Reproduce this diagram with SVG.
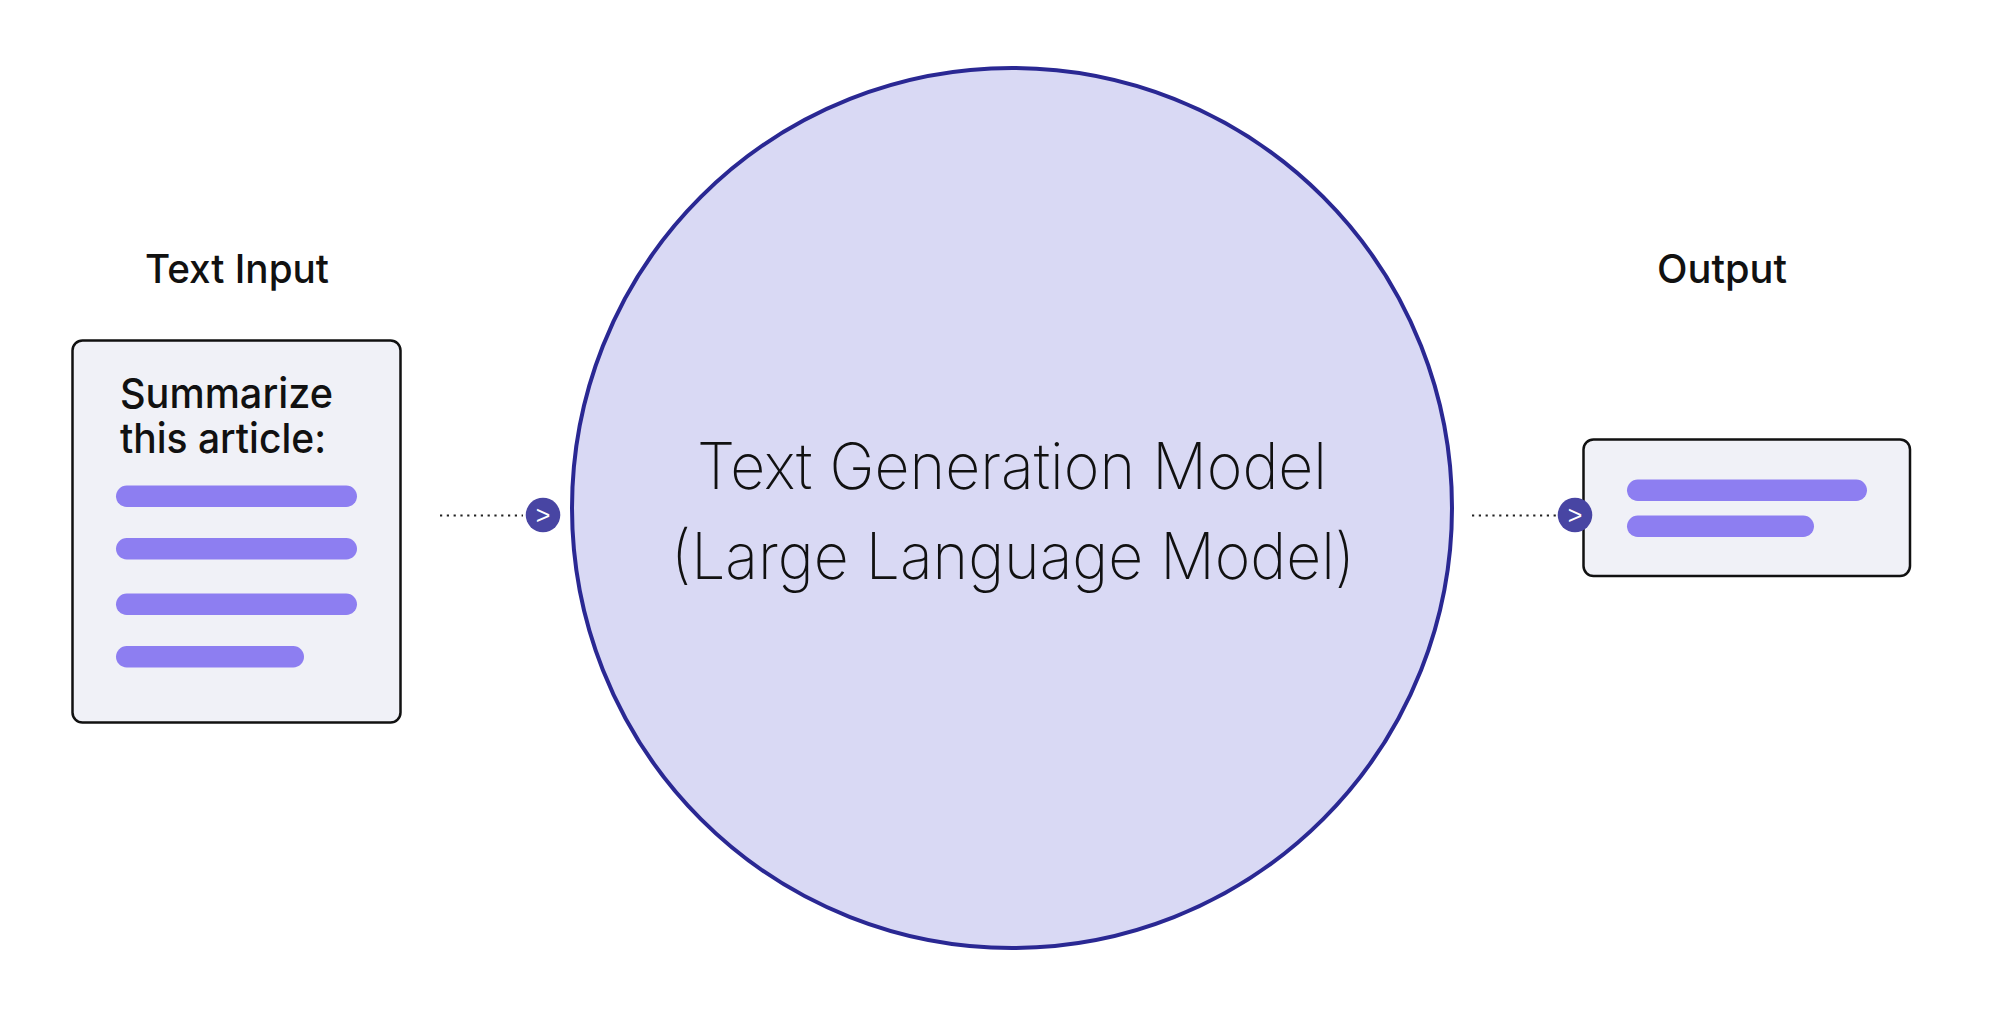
<svg xmlns="http://www.w3.org/2000/svg" width="2000" height="1033" viewBox="0 0 2000 1033">
  <style>
    .label { font-family: "Inter", "Liberation Sans", Arial, sans-serif; font-weight: 500; font-size: 40px; fill: #111; }
    .prompt { font-family: "Inter", "Liberation Sans", Arial, sans-serif; font-weight: 500; font-size: 41px; fill: #111; }
    .model { font-family: "Inter", "Roboto", "Lato", sans-serif; font-weight: 200; font-size: 64px; fill: #111; }
    .card { fill: #F0F1F7; stroke: #111; stroke-width: 2.5; }
    .bar { fill: #8D7EF1; }
    .dots { stroke: #222; stroke-width: 2.2; stroke-dasharray: 2.2 4.6; fill: none; }
    .port { fill: #4845A3; }
    .chev { font-family: "Liberation Sans", Arial, sans-serif; font-size: 25px; fill: #fff; }
  </style>
  <rect width="2000" height="1033" fill="#ffffff"/>

  <g id="connectors">
    <line class="dots" x1="440" y1="515.5" x2="523" y2="515.5"/>
    <line class="dots" x1="1472" y1="515.5" x2="1556" y2="515.5"/>
  </g>

  <g id="input">
    <text class="label" x="145" y="283" textLength="184" lengthAdjust="spacingAndGlyphs">Text Input</text>
    <rect class="card" x="72.5" y="340.5" width="328" height="382" rx="10"/>
    <text class="prompt" x="120" y="407.5" textLength="213" lengthAdjust="spacingAndGlyphs">Summarize</text>
    <text class="prompt" x="120" y="452.5" textLength="206" lengthAdjust="spacingAndGlyphs">this article:</text>
    <rect class="bar" x="116" y="485.5" width="241" height="21.5" rx="10.75"/>
    <rect class="bar" x="116" y="538" width="241" height="21.5" rx="10.75"/>
    <rect class="bar" x="116" y="593.5" width="241" height="21.5" rx="10.75"/>
    <rect class="bar" x="116" y="646" width="188" height="21.5" rx="10.75"/>
  </g>

  <g id="model">
    <circle cx="1012" cy="508" r="440" fill="#D9D9F4" stroke="#2A2893" stroke-width="4"/>
    <text class="model" x="1012" y="489" text-anchor="middle" textLength="630" lengthAdjust="spacingAndGlyphs">Text Generation Model</text>
    <text class="model" x="1013" y="579" text-anchor="middle" textLength="684" lengthAdjust="spacingAndGlyphs">(Large Language Model)</text>
  </g>

  <g id="output">
    <text class="label" x="1657" y="283" textLength="130" lengthAdjust="spacingAndGlyphs">Output</text>
    <rect class="card" x="1583.5" y="439.5" width="326.5" height="136.5" rx="10"/>
    <rect class="bar" x="1627" y="479.5" width="240" height="21.5" rx="10.75"/>
    <rect class="bar" x="1627" y="515.5" width="187" height="21.5" rx="10.75"/>
  </g>

  <g id="port-in">
    <circle class="port" cx="543" cy="515" r="17.3"/>
    <text class="chev" x="543" y="524" text-anchor="middle">&gt;</text>
  </g>
  <g id="port-out">
    <circle class="port" cx="1575" cy="515" r="17.3"/>
    <text class="chev" x="1575" y="524" text-anchor="middle">&gt;</text>
  </g>
</svg>
